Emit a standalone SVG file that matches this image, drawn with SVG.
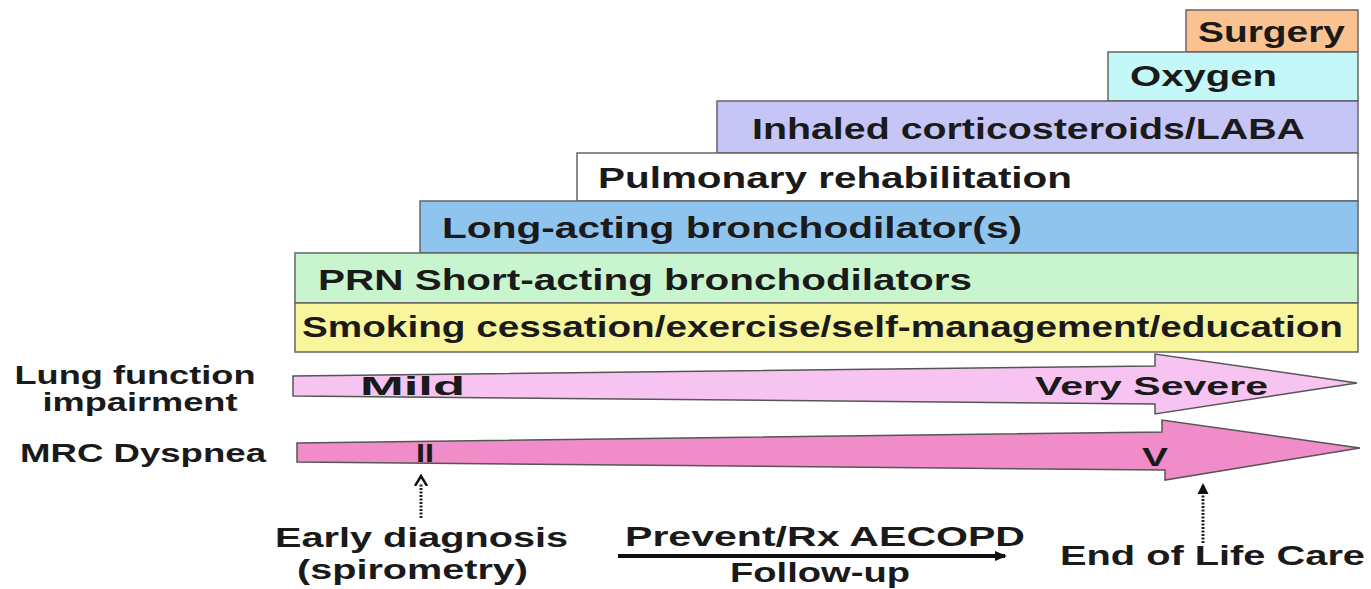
<svg xmlns="http://www.w3.org/2000/svg" width="1371" height="589" viewBox="0 0 1371 589">
<style>
text{font-family:"Liberation Sans",Arial,sans-serif;font-weight:bold;fill:#1a1a1a}
.box{stroke:#666;stroke-width:1.5}
.bt{font-size:29px}
.lbl{font-size:26px}
.bl{font-size:28px}
.dot{stroke:#222;stroke-width:3;stroke-dasharray:2,1.5;fill:none}
</style>
<defs>
<marker id="ah" markerWidth="12" markerHeight="12" refX="8" refY="6" orient="auto" markerUnits="userSpaceOnUse">
<path d="M0,0.5 L11,6 L0,11.5 Z" fill="#111"/>
</marker>
<marker id="ahopen" markerWidth="14" markerHeight="14" refX="2" refY="7" orient="auto" markerUnits="userSpaceOnUse">
<path d="M0,1 L10,7 L0,13" fill="none" stroke="#111" stroke-width="2.5"/>
</marker>
<marker id="ah2" markerWidth="12" markerHeight="10" refX="10" refY="5" orient="auto" markerUnits="userSpaceOnUse">
<path d="M0,0 L12,5 L0,10 Z" fill="#111"/>
</marker>
</defs>
<g id="surgery"><rect class="box" x="1186" y="10" width="172" height="42" fill="#f9c290"/><text class="bt" x="1198" y="42" textLength="147" lengthAdjust="spacingAndGlyphs">Surgery</text></g>
<g id="oxygen"><rect class="box" x="1108" y="52" width="250" height="49" fill="#c4f8f8"/><text class="bt" x="1130" y="86" textLength="147" lengthAdjust="spacingAndGlyphs">Oxygen</text></g>
<g id="ics"><rect class="box" x="717" y="101" width="641" height="52" fill="#c6c6f6"/><text class="bt" x="752" y="139" textLength="553" lengthAdjust="spacingAndGlyphs">Inhaled corticosteroids/LABA</text></g>
<g id="pulm"><rect class="box" x="577" y="153" width="781" height="48" fill="#ffffff"/><text class="bt" x="598" y="188" textLength="474" lengthAdjust="spacingAndGlyphs">Pulmonary rehabilitation</text></g>
<g id="laba"><rect class="box" x="420" y="201" width="938" height="52" fill="#8fc4ee"/><text class="bt" x="442" y="238" textLength="580" lengthAdjust="spacingAndGlyphs">Long-acting bronchodilator(s)</text></g>
<g id="prn"><rect class="box" x="295" y="253" width="1063" height="50" fill="#c9f5ce"/><text class="bt" x="318" y="290" textLength="654" lengthAdjust="spacingAndGlyphs">PRN Short-acting bronchodilators</text></g>
<g id="smoking"><rect class="box" x="295" y="303" width="1063" height="49" fill="#f8f59c"/><text class="bt" x="302" y="337" font-size="27" textLength="1041" lengthAdjust="spacingAndGlyphs">Smoking cessation/exercise/self-management/education</text></g>
<g id="lung-label"><text class="lbl" x="135" y="384" text-anchor="middle" textLength="241" lengthAdjust="spacingAndGlyphs">Lung function</text><text class="lbl" x="140" y="411" text-anchor="middle" textLength="195" lengthAdjust="spacingAndGlyphs">impairment</text></g>
<g id="mrc-label"><text class="lbl" x="20" y="462" textLength="246" lengthAdjust="spacingAndGlyphs">MRC Dyspnea</text></g>
<g id="lung-arrow"><path d="M293,376 L1155,366 L1155,354 L1357,383 L1155,414 L1155,404 L293,396 Z" fill="#f7c4f2" stroke="#555" stroke-width="1.5"/><text class="lbl" x="360" y="395" textLength="105" lengthAdjust="spacingAndGlyphs">Mild</text><text class="lbl" x="1035" y="395" textLength="233" lengthAdjust="spacingAndGlyphs">Very Severe</text></g>
<g id="mrc-arrow"><path d="M297,443 L1162,432 L1162,420 L1360,448 L1165,480 L1165,470 L297,462 Z" fill="#f08dc9" stroke="#555" stroke-width="1.5"/><text class="lbl" x="416" y="462" textLength="18" lengthAdjust="spacingAndGlyphs">II</text><text class="lbl" x="1142" y="466" textLength="26" lengthAdjust="spacingAndGlyphs">V</text></g>
<g id="connectors">
<line class="dot" x1="421" y1="518" x2="421" y2="484" marker-end="url(#ahopen)"/>
<line class="dot" x1="1203" y1="543" x2="1203" y2="486" marker-end="url(#ah)"/>
<line x1="618" y1="556" x2="1005" y2="556" stroke="#111" stroke-width="4" marker-end="url(#ah2)"/>
</g>
<g id="early"><text class="bl" x="275" y="547" textLength="293" lengthAdjust="spacingAndGlyphs">Early diagnosis</text><text class="bl" x="297" y="579" textLength="231" lengthAdjust="spacingAndGlyphs">(spirometry)</text></g>
<g id="prevent"><text class="bl" x="625" y="546" textLength="400" lengthAdjust="spacingAndGlyphs">Prevent/Rx AECOPD</text><text class="bl" x="730" y="582" textLength="180" lengthAdjust="spacingAndGlyphs">Follow-up</text></g>
<g id="eol"><text class="bl" x="1060" y="565" textLength="305" lengthAdjust="spacingAndGlyphs">End of Life Care</text></g>
</svg>
